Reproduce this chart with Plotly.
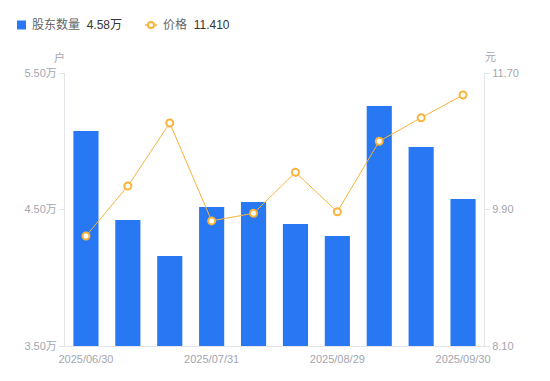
import plotly.graph_objects as go

dates = ["2025/06/30", "2025/07/10", "2025/07/20", "2025/07/31", "2025/08/10",
         "2025/08/20", "2025/08/29", "2025/09/10", "2025/09/19", "2025/09/30"]
holders = [5.075, 4.423, 4.159, 4.518, 4.555, 4.394, 4.306, 5.258, 4.958, 4.577]  # 万户
price = [9.55, 10.21, 11.04, 9.75, 9.85, 10.39, 9.87, 10.80, 11.11, 11.41]
x_ticks = ["2025/06/30", "2025/07/31", "2025/08/29", "2025/09/30"]
left_ticks = [3.5, 4.5, 5.5]
right_ticks = [8.10, 9.90, 11.70]

BAR = "#2878F4"
ORANGE = "#F8B33A"
GREY = "#A3A6AE"
AXIS = "#E3E5EA"
FONT = "Liberation Sans, Arial, Noto Sans CJK SC, sans-serif"

W, H = 550, 381
ML, MR, MT, MB = 65, 66, 73, 35
PW, PH = W - ML - MR, H - MT - MB

def px(x):
    return (x - ML) / PW

def py(y):
    return 1 - (y - MT) / PH

fig = go.Figure()
fig.add_trace(go.Bar(x=dates, y=holders, marker=dict(color=BAR, line=dict(width=0)),
                     width=0.6, name="股东数量", yaxis="y", showlegend=False))
fig.add_trace(go.Scatter(x=dates, y=price, mode="lines+markers", yaxis="y2",
                         line=dict(color=ORANGE, width=1),
                         marker=dict(symbol="circle", size=7, color="white",
                                     line=dict(color=ORANGE, width=2)),
                         name="价格", showlegend=False))

fig.update_layout(
    width=W, height=H,
    margin=dict(l=ML, r=MR, t=MT, b=MB, autoexpand=False),
    plot_bgcolor="white", paper_bgcolor="white",
    font=dict(family=FONT, size=11, color=GREY),
    xaxis=dict(type="category", categoryorder="array", categoryarray=dates,
               tickmode="array", tickvals=x_ticks, ticktext=x_ticks,
               showline=True, linecolor=AXIS, linewidth=1, ticks="",
               ticklabelstandoff=3,
               showgrid=False, tickfont=dict(size=11, color=GREY),
               range=[-0.5, len(dates) - 0.5]),
    yaxis=dict(range=[left_ticks[0], left_ticks[-1]], tickmode="array",
               tickvals=left_ticks, ticktext=[f"{v:.2f}万" for v in left_ticks],
               showline=True, linecolor=AXIS, linewidth=1, ticks="outside",
               ticklen=5, tickcolor=AXIS, showgrid=False, zeroline=False,
               tickfont=dict(size=11, color=GREY)),
    yaxis2=dict(range=[right_ticks[0], right_ticks[-1]], overlaying="y", side="right",
                tickmode="array", tickvals=right_ticks,
                ticktext=[f"{v:.2f}" for v in right_ticks],
                showline=True, linecolor=AXIS, linewidth=1, ticks="outside",
                ticklen=5, tickcolor=AXIS, showgrid=False, zeroline=False,
                tickfont=dict(size=11, color=GREY)),
)

# Custom legend
legend_y = 25
fig.add_shape(type="rect", xref="paper", yref="paper",
              x0=px(17), x1=px(26), y0=py(legend_y - 4.5), y1=py(legend_y + 4.5),
              fillcolor=BAR, line=dict(width=0), layer="above")
fig.add_annotation(xref="paper", yref="paper", x=px(30), y=py(legend_y),
                   xanchor="left", yanchor="middle", showarrow=False,
                   text=f"股东数量  <span style='color:#333333'>{holders[-1]:.2f}万</span>",
                   font=dict(size=12, color="#666666"))
fig.add_shape(type="line", xref="paper", yref="paper",
              x0=px(145), x1=px(157), y0=py(legend_y), y1=py(legend_y),
              line=dict(color=ORANGE, width=1.5), layer="above")
fig.add_shape(type="circle", xref="paper", yref="paper",
              x0=px(148), x1=px(154), y0=py(legend_y + 3), y1=py(legend_y - 3),
              fillcolor="white", line=dict(color=ORANGE, width=2), layer="above")
fig.add_annotation(xref="paper", yref="paper", x=px(161), y=py(legend_y),
                   xanchor="left", yanchor="middle", showarrow=False,
                   text=f"价格  <span style='color:#333333'>{price[-1]:.3f}</span>",
                   font=dict(size=12, color="#666666"))

# Axis unit labels
fig.add_annotation(xref="paper", yref="paper", x=px(59), y=py(57),
                   xanchor="center", yanchor="middle", showarrow=False,
                   text="户", font=dict(size=11, color=GREY))
fig.add_annotation(xref="paper", yref="paper", x=px(490), y=py(57),
                   xanchor="center", yanchor="middle", showarrow=False,
                   text="元", font=dict(size=11, color=GREY))

fig.write_html("out.html", config={"displayModeBar": False},
               post_script="document.body.style.margin='0';document.body.style.overflow='hidden';")
